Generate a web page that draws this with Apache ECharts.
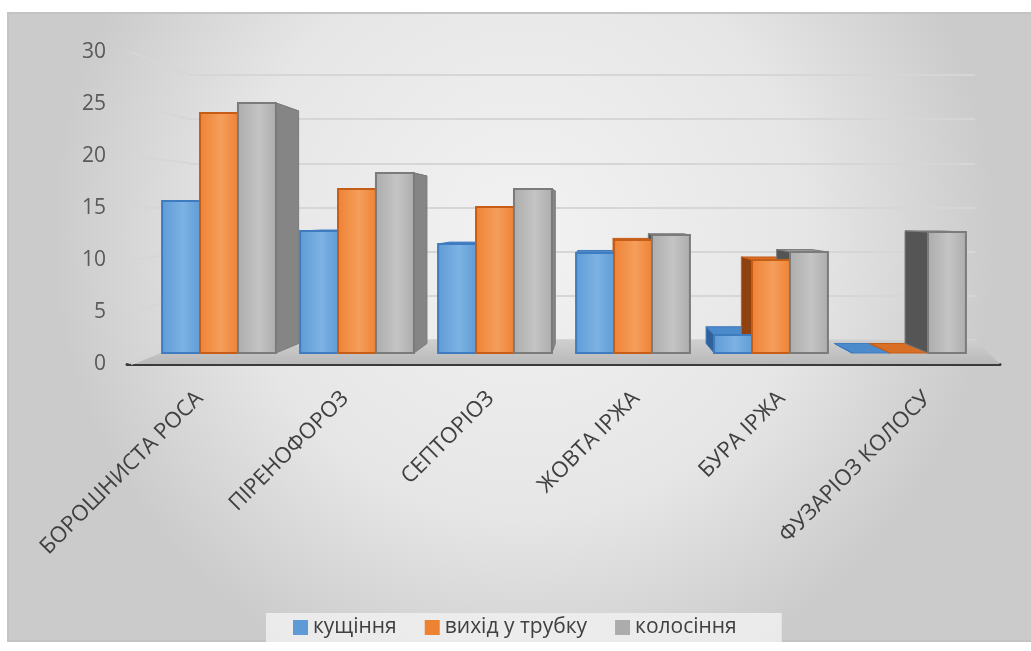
<!DOCTYPE html>
<html>
<head>
<meta charset="utf-8">
<style>
  html, body { margin: 0; padding: 0; background: #fff; }
  #chart { width: 1031px; height: 651px; }
</style>
<script src="https://cdn.jsdelivr.net/npm/echarts@6/dist/echarts.min.js"></script>
</head>
<body>
<div id="chart"></div>
<script>
var categories = ['БОРОШНИСТА РОСА', 'ПІРЕНОФОРОЗ', 'СЕПТОРІОЗ', 'ЖОВТА ІРЖА', 'БУРА ІРЖА', 'ФУЗАРІОЗ КОЛОСУ'];
var kushchinnia = [15.2, 12.2, 10.9, 10.0, 1.8, 0];
var vykhidTrubku = [24.0, 16.4, 14.6, 11.3, 9.3, 0];
var kolosinnia = [25.0, 18.0, 16.4, 11.8, 10.1, 12.1];
var yTicks = [0, 5, 10, 15, 20, 25, 30];

var FONT = '"Open Sans", "Noto Sans", sans-serif';
// точка сходу для псевдо-3D
var VP = [600, 217], DEPTH = 0.07;

var styles = [
  { name: 'кущіння', front: ['#5e9bd6', '#7db2e3'], border: '#3f7cbf', top: '#4b8acb', sideR: '#3e78b8', sideL: '#2f619a' },
  { name: 'вихід у трубку', front: ['#ee8233', '#f59e5c'], border: '#c55d16', top: '#d96e25', sideR: '#bf5a15', sideL: '#8f4210' },
  { name: 'колосіння', front: ['#acacac', '#c4c4c4'], border: '#7b7b7b', top: '#9a9a9a', sideR: '#858585', sideL: '#555555' }
];
var values = [kushchinnia, vykhidTrubku, kolosinnia];

var myChart = echarts.init(document.getElementById('chart'));

function recede(p) {
  return [p[0] + (VP[0] - p[0]) * DEPTH, p[1] + (VP[1] - p[1]) * DEPTH];
}

function barGeom(s, api) {
  var i = api.value(0), v = api.value(1);
  var top = api.coord([i, v]);
  var base = api.coord([i, 0]);
  var bw = api.size([1, 0])[0] * 0.275;
  var x0 = top[0] + (s - 1.5) * bw, x1 = x0 + bw;
  return { A: [x0, top[1]], B: [x1, top[1]], C: [x1, base[1]], D: [x0, base[1]], x0: x0, x1: x1 };
}

function backRender(s) {
  var st = styles[s];
  return function (params, api) {
    var g = barGeom(s, api);
    var Ab = recede(g.A), Bb = recede(g.B), Cb = recede(g.C), Db = recede(g.D);
    var children = [{
      type: 'polygon',
      shape: { points: [g.A, g.B, Bb, Ab] },
      style: { fill: st.top, stroke: st.border, lineWidth: 1 }
    }];
    if (g.x1 < VP[0]) {
      children.push({
        type: 'polygon',
        shape: { points: [g.B, g.C, Cb, Bb] },
        style: { fill: st.sideR, stroke: st.border, lineWidth: 1 }
      });
    }
    if (g.x0 > VP[0]) {
      children.push({
        type: 'polygon',
        shape: { points: [g.A, g.D, Db, Ab] },
        style: { fill: st.sideL, stroke: st.border, lineWidth: 1 }
      });
    }
    return { type: 'group', children: children };
  };
}

function frontRender(s) {
  var st = styles[s];
  return function (params, api) {
    var g = barGeom(s, api);
    var h = g.D[1] - g.A[1];
    if (h < 0.5) return null;
    return {
      type: 'rect',
      shape: { x: g.x0, y: g.A[1], width: g.x1 - g.x0, height: h },
      style: {
        fill: new echarts.graphic.LinearGradient(0, 0, 1, 0, [
          { offset: 0, color: st.front[0] },
          { offset: 0.55, color: st.front[1] },
          { offset: 1, color: st.front[0] }
        ]),
        stroke: st.border,
        lineWidth: 2
      }
    };
  };
}

// стіни та підлога беруть координати з осей задньої стінки
function backPoint(v, xv) {
  return myChart.convertToPixel({ xAxisIndex: 2, yAxisIndex: 2 }, [xv, v]);
}

var series = [];
series.push({
  type: 'custom',
  name: 'floor',
  xAxisIndex: 1,
  yAxisIndex: 1,
  silent: true,
  z: 1,
  data: [[0, 0]],
  renderItem: function (params, api) {
    var fl = api.coord([0, 0]), fr = api.coord([1, 0]);
    var bl = backPoint(0, 0), br = backPoint(0, 1);
    return {
      type: 'polygon',
      shape: { points: [fl, fr, br, bl] },
      style: { fill: new echarts.graphic.LinearGradient(0, 0, 0, 1, [
        { offset: 0, color: '#cfcfcf' }, { offset: 1, color: '#b9b9b9' }
      ]) }
    };
  }
});
series.push({
  type: 'custom',
  name: 'wall',
  xAxisIndex: 1,
  yAxisIndex: 1,
  silent: true,
  z: 1,
  data: yTicks.map(function (t) { return [0, t]; }),
  renderItem: function (params, api) {
    var v = api.value(1);
    var f = api.coord([0, v]);
    var b = backPoint(v, 0);
    return {
      type: 'line',
      shape: { x1: f[0] + 4, y1: f[1], x2: b[0], y2: b[1] },
      style: { stroke: '#d6d6d6', lineWidth: 2 }
    };
  }
});

for (var s = 0; s < 3; s++) {
  var data = categories.map(function (c, i) { return [i, values[s][i]]; });
  series.push({
    type: 'custom',
    name: styles[s].name,
    renderItem: backRender(s),
    encode: { x: 0, y: 1 },
    itemStyle: { color: styles[s].front[0], borderColor: styles[s].border },
    data: data,
    z: 3
  });
}
for (var s2 = 0; s2 < 3; s2++) {
  var data2 = categories.map(function (c, i) { return [i, values[s2][i]]; });
  series.push({
    type: 'custom',
    name: styles[s2].name,
    renderItem: frontRender(s2),
    encode: { x: 0, y: 1 },
    itemStyle: { color: styles[s2].front[0], borderColor: styles[s2].border },
    data: data2,
    z: 4
  });
}

var option = {
  animation: false,
  textStyle: { fontFamily: FONT },
  graphic: [{
    type: 'rect',
    z: -10,
    silent: true,
    shape: { x: 8, y: 13, width: 1030, height: 628 },
    style: {
      fill: new echarts.graphic.RadialGradient(0.5, 0.35, 0.75, [
        { offset: 0, color: '#f2f2f2' },
        { offset: 0.6, color: '#e6e6e6' },
        { offset: 1, color: '#cbcbcb' }
      ]),
      stroke: '#c4c4c4',
      lineWidth: 2
    }
  }],
  grid: [
    { left: 150, right: 53, top: 53, bottom: 298 },
    { left: 127, right: 31, top: 52, bottom: 287 },
    { left: 190, right: 56, top: 75, bottom: 311 },
    { left: 127, right: 31, top: 52, bottom: 287 }
  ],
  xAxis: [
    { type: 'category', gridIndex: 0, data: categories, show: false },
    {
      type: 'value', gridIndex: 1, min: 0, max: 1,
      axisLine: { show: true, lineStyle: { color: '#3a3a3a', width: 3 } },
      axisTick: { show: false }, axisLabel: { show: false }, splitLine: { show: false }
    },
    { type: 'value', gridIndex: 2, min: 0, max: 1, show: false },
    {
      type: 'category',
      gridIndex: 3,
      data: categories,
      axisLine: { show: false },
      axisTick: { show: false },
      axisLabel: { interval: 0, rotate: 45, margin: 31, fontSize: 22, color: '#404040', fontFamily: FONT }
    }
  ],
  yAxis: [
    { type: 'value', gridIndex: 0, min: 0, max: 30, interval: 5, show: false },
    {
      type: 'value', gridIndex: 1, min: 0, max: 30, interval: 5,
      axisLine: { show: false }, axisTick: { show: false }, splitLine: { show: false },
      axisLabel: { margin: 21, fontSize: 21, color: '#595959', fontFamily: FONT }
    },
    {
      type: 'value', gridIndex: 2, min: 0, max: 30, interval: 5,
      axisLine: { show: false }, axisTick: { show: false }, axisLabel: { show: false },
      splitLine: { show: true, lineStyle: { color: '#d6d6d6', width: 2 } }
    },
    { type: 'value', gridIndex: 3, min: 0, max: 30, show: false }
  ],
  legend: {
    data: styles.map(function (st) { return st.name; }),
    left: 266,
    top: 613,
    padding: [4, 45, 4, 27],
    backgroundColor: 'rgba(240,240,240,0.85)',
    itemWidth: 15,
    itemHeight: 15,
    itemGap: 28,
    icon: 'rect',
    selectedMode: false,
    textStyle: { fontSize: 21, color: '#404040', fontFamily: FONT }
  },
  series: series
};
myChart.setOption(option);
</script>
</body>
</html>
